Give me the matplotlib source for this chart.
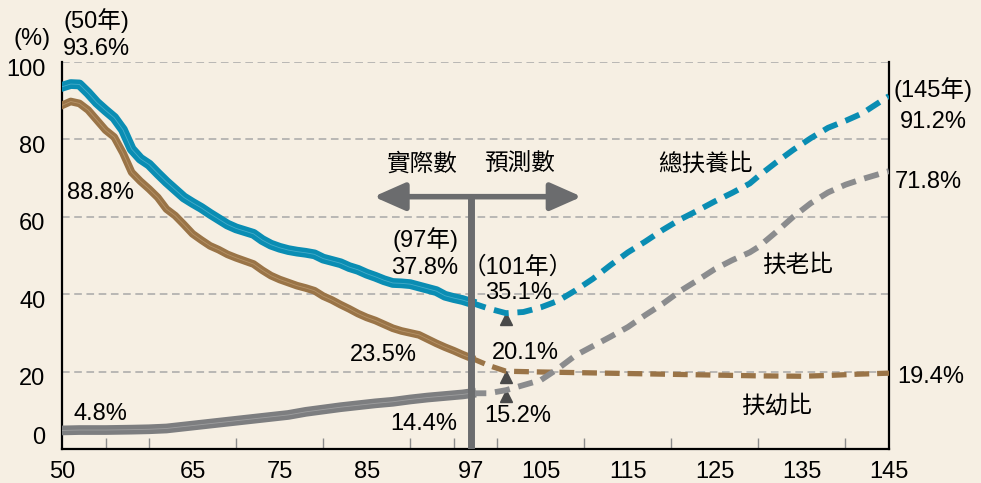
import matplotlib
matplotlib.use("Agg")
import matplotlib.pyplot as plt
import matplotlib.transforms as mtransforms

plt.rcParams['font.family'] = ['Liberation Sans', 'Noto Sans CJK TC']

# 實際數 (actual), ROC years 50-97
act_years = [50, 51, 52, 53, 54, 55, 56, 57, 58, 59, 60, 61, 62, 63, 64, 65, 66, 67, 68, 69,
             70, 71, 72, 73, 74, 75, 76, 77, 78, 79, 80, 81, 82, 83, 84, 85, 86, 87, 88, 89,
             90, 91, 92, 93, 94, 95, 96, 97]
total_act = [93.6, 94.3, 94.2, 92.0, 89.5, 87.5, 85.6, 82.5, 77.5, 75.0, 73.5, 71.2, 69.0, 67.0,
             65.0, 63.6, 62.3, 60.8, 59.4, 58.0, 57.0, 56.3, 55.6, 54.0, 52.8, 52.0, 51.4, 51.0,
             50.7, 50.3, 49.2, 48.6, 48.0, 47.0, 46.3, 45.3, 44.5, 43.6, 42.9, 42.8, 42.6, 42.0,
             41.4, 40.8, 39.6, 39.0, 38.5, 37.8]
young_act = [88.8, 89.8, 89.3, 87.6, 85.0, 82.4, 80.6, 76.5, 71.5, 69.2, 67.2, 65.0, 62.0, 60.3,
             58.0, 55.6, 54.0, 52.5, 51.5, 50.3, 49.4, 48.6, 47.8, 46.2, 44.8, 43.8, 43.0, 42.2,
             41.6, 40.9, 39.5, 38.5, 37.3, 36.2, 35.0, 34.0, 33.2, 32.2, 31.2, 30.5, 30.0, 29.5,
             28.4, 27.3, 26.3, 25.4, 24.4, 23.5]
old_act_years = [50, 52, 55, 58, 60, 62, 64, 66, 68, 70, 72, 74, 76, 78, 80, 82, 84, 86, 88,
                 90, 92, 94, 96, 97]
old_act = [4.8, 4.9, 4.9, 5.0, 5.1, 5.3, 5.8, 6.3, 6.8, 7.3, 7.8, 8.3, 8.8, 9.6, 10.2, 10.8,
           11.3, 11.8, 12.2, 12.8, 13.3, 13.7, 14.1, 14.4]

# 預測數 (projection), ROC years 97-145
total_proj_years = [97, 99, 101, 103, 105, 107, 109, 111, 113, 115, 117, 119, 121, 123, 125, 127,
                    129, 130, 132, 134, 136, 138, 140, 142, 143, 145]
total_proj = [37.8, 36.3, 35.1, 35.4, 36.6, 38.3, 41.0, 44.0, 47.5, 50.8, 53.6, 56.6, 59.3, 61.6,
              64.0, 66.2, 68.6, 70.5, 74.0, 77.3, 80.3, 83.0, 84.8, 86.8, 88.3, 91.2]
young_proj_years = [97, 99, 101, 105, 110, 115, 120, 125, 130, 135, 138, 141, 145]
young_proj = [23.5, 21.6, 20.1, 19.9, 19.7, 19.5, 19.3, 19.1, 18.9, 18.8, 19.0, 19.3, 19.6]
old_proj_years = [97, 99, 101, 103, 105, 107, 109, 111, 113, 115, 117, 119, 121, 123, 125, 127,
                  129, 130, 132, 134, 136, 138, 140, 142, 145]
old_proj = [14.4, 14.4, 15.2, 16.5, 17.8, 20.8, 24.2, 26.6, 29.0, 31.5, 34.6, 37.5, 40.8, 43.6,
            46.5, 48.8, 50.8, 52.2, 56.0, 60.0, 63.5, 66.3, 68.3, 69.8, 71.8]

x_labels = [50, 65, 75, 85, 97, 105, 115, 125, 135, 145]
y_ticks = [0, 20, 40, 60, 80, 100]
split_year = 97
mark_year = 101

bg = '#f6efe3'
blue = '#0a8db3'
brown = '#9a7447'
gray = '#7d7e80'
gray_d = '#8b8c8e'
bar_c = '#6b6c6e'
fs = 17

fig = plt.figure(figsize=(9.81, 4.83), dpi=100, facecolor=bg)
ax = fig.add_axes([62 / 981, 1 - 449 / 483, 827 / 981, 387 / 483], facecolor=bg)
ax.set_xlim(50, 145)
ax.set_ylim(0, 100)

for y in y_ticks[1:]:
    ax.axhline(y, color='#a8a8a8', lw=1.1, ls=(0, (5, 3)), zorder=1)

# actual: thick solid lines with a light centre stroke
for xs, ys, c, hi, w in [(act_years, total_act, blue, '#6cc0d8', 7),
                         (act_years, young_act, brown, '#c8a77d', 5.5),
                         (old_act_years, old_act, gray, '#b3b3b3', 7)]:
    ax.plot(xs, ys, color=c, lw=w, solid_joinstyle='round', zorder=3)
    ax.plot(xs, ys, color=hi, lw=0.6, alpha=0.6, zorder=3)

# projections: dashed
ax.plot(total_proj_years, total_proj, color=blue, lw=4.2, dashes=(2.6, 1.5), zorder=3)
ax.plot(young_proj_years, young_proj, color=brown, lw=3.8, dashes=(2.8, 1.5), zorder=3)
ax.plot(old_proj_years, old_proj, color=gray_d, lw=4.2, dashes=(2.6, 1.5), zorder=3)

# small triangles under the 101年 values
mark_vals = [total_proj[total_proj_years.index(mark_year)],
             young_proj[young_proj_years.index(mark_year)],
             old_proj[old_proj_years.index(mark_year)]]
ax.plot([mark_year] * 3, [v - 1.6 for v in mark_vals], ls='none', marker='^', ms=8,
        color='#4a4a4a', zorder=2)

# 實際數 / 預測數 divider
arrow_y = 65.2
ax.axvline(split_year, ymin=0, ymax=arrow_y / 100, color=bar_c, lw=5, zorder=5)
ax.annotate('', xy=(85.8, arrow_y), xytext=(109.7, arrow_y),
            arrowprops=dict(arrowstyle='<|-|>,head_length=0.95,head_width=0.42', mutation_scale=20,
                            lw=4, color=bar_c, shrinkA=0, shrinkB=0), zorder=5)

# spines and ticks
for s in ['left', 'bottom', 'right']:
    ax.spines[s].set_linewidth(1.6)
    ax.spines[s].set_color('black')
ax.spines['top'].set_visible(False)

ax.set_xticks(x_labels)
ax.set_xticklabels([str(v) for v in x_labels], fontsize=fs)
ax.set_xticks(range(55, 145, 5), minor=True)
ax.tick_params(axis='x', which='major', length=0, pad=9)
ax.tick_params(axis='x', which='minor', direction='in', length=8, width=1, color='#8c8c8c')

ax.set_yticks(y_ticks)
ax.set_yticklabels([str(v) for v in y_ticks], fontsize=fs)
ax.tick_params(axis='y', length=0, pad=12)
for lab, t in zip(ax.get_yticklabels(), y_ticks):
    dy = 0.13 if t == 0 else -0.05
    lab.set_transform(lab.get_transform() + mtransforms.ScaledTranslation(0, dy, fig.dpi_scale_trans))

# annotations
texts = [
    ('(%)', 46.6, 106.0), ('(50年)', 54.0, 110.6), ('93.6%', 54.0, 103.4),
    ('88.8%', 54.4, 66.2), ('4.8%', 54.4, 9.1),
    ('實際數', 91.4, 73.5), ('預測數', 102.6, 73.5),
    ('(97年)', 91.7, 54.0), ('37.8%', 91.7, 46.8),
    ('（101年）', 102.4, 47.0), ('35.1%', 102.4, 40.3),
    ('23.5%', 86.9, 24.2), ('20.1%', 103.2, 24.9),
    ('14.4%', 91.5, 6.5), ('15.2%', 102.3, 8.6),
    ('扶幼比', 132.2, 11.2), ('扶老比', 134.6, 47.5), ('總扶養比', 123.9, 73.5),
    ('(145年)', 150.1, 93.0), ('91.2%', 150.1, 84.4),
    ('71.8%', 149.5, 69.1), ('19.4%', 149.8, 18.7),
]
for s, x, y in texts:
    ax.text(x, y, s, fontsize=fs, ha='center', va='center', clip_on=False, zorder=6)

fig.savefig('out.png', dpi=100, facecolor=bg)
